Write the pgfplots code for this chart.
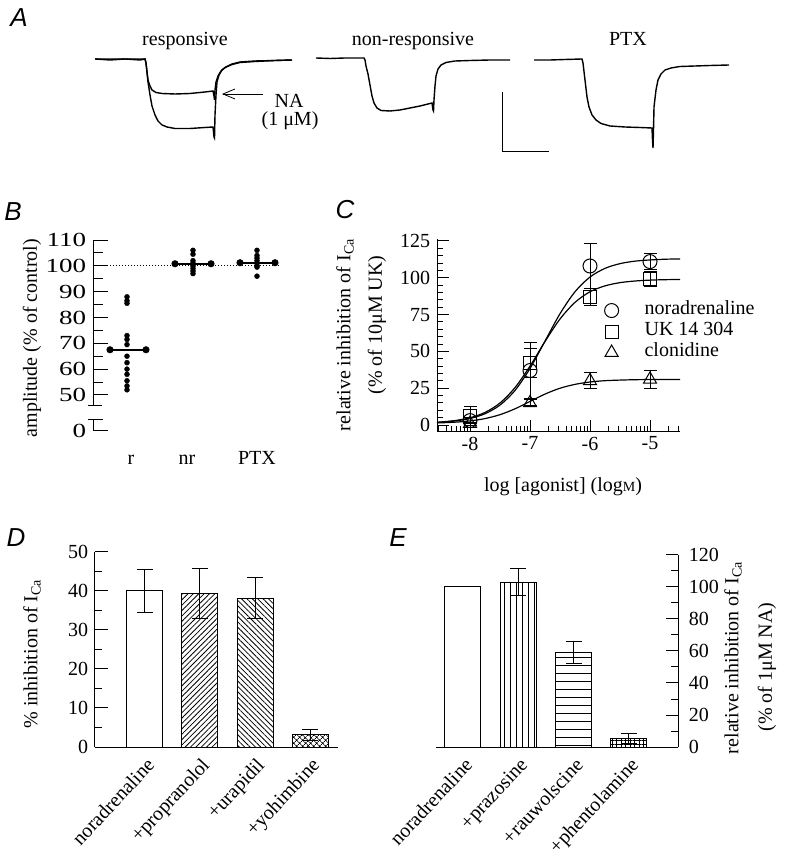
\documentclass[border=0pt]{standalone}
\usepackage{fontspec}
\setmainfont{Liberation Serif}
\newfontfamily\panelfont{Liberation Sans}
\usepackage{pgfplots}
\pgfplotsset{compat=1.18}
\usetikzlibrary{patterns.meta,arrows.meta}
\pgfplotsset{
  /pgf/number format/assume math mode=true,
  every axis/.append style={scale only axis, anchor=south west, clip=false,
    axis line style={line width=1pt}, tick style={line width=1pt, black}, tick align=inside},
  eb/.style={error bars/.cd, y dir=both, y explicit, error bar style={line width=1pt},
    error mark options={rotate=90, line width=1pt, mark size=#1}},
}
\newcommand{\plab}[1]{{\panelfont\itshape\fontsize{26}{26}\selectfont #1}}
\begin{document}
\fontsize{20}{24}\selectfont
\begin{tikzpicture}
\path[use as bounding box] (0pt,0pt) rectangle (790pt,857pt);

% ---------------- Panel A (pixel coordinates) ----------------
\begin{axis}[at={(0pt,687pt)}, width=790pt, height=170pt, xmin=0, xmax=790, ymin=0, ymax=170,
  y dir=reverse, hide axis]
\addplot[no marks, line width=1.4pt] coordinates {(95,59) (110,60) (125,59) (140,60) (145,59) (146,63) (147,72) (148,82) (150,95) (152,106) (155,115) (158,121) (162,125) (167,127) (175,128.5) (190,128.5) (205,127.5) (213,127) (214,137) (214.5,138) (215,115) (216,95) (217,82) (219,75) (222,70) (226,67) (232,64) (240,62) (255,61) (275,60.5) (292,60)};
\addplot[no marks, line width=1.4pt] coordinates {(95,59) (145,59) (146,63) (147,72) (148,80) (150,86) (152,90) (156,92.5) (162,93.5) (175,94) (190,93.5) (205,92) (213,91) (214,96) (214.5,100) (215,90) (216,82) (218,76) (221,71) (225,67.5) (232,64.5) (240,62.5) (255,61.5) (275,60.5) (292,60)};
\addplot[no marks, line width=1.4pt] coordinates {(316,58) (330,58.5) (345,58) (364,58) (365,60) (366,66) (368,74) (370,85) (372,96) (374,103) (377,108) (381,110.5) (390,111) (400,110) (410,108) (420,106) (432,103) (433,110) (433.5,111) (434,100) (435,86) (436,76) (438,69) (441,65) (446,62.5) (455,61) (470,60.5) (490,60) (510,60)};
\addplot[no marks, line width=1.4pt] coordinates {(534,60) (550,60) (565,59.5) (582,59) (583,63) (585,80) (587,97) (589,107) (592,115) (596,120) (601,123.5) (610,126) (625,127) (640,127.5) (652,128) (652.5,140) (653,148) (653.5,130) (654,107) (656,90) (658,80) (661,74) (665,70) (671,68) (680,66.5) (695,66) (710,65.5) (729,65)};
\addplot[no marks, line width=1pt] coordinates {(502,92) (502,152) (549,152)};
\addplot[no marks, line width=0.8pt, -{Straight Barb[length=12pt,width=10pt]}] coordinates {(263,94) (222,94)};
\node[anchor=base] at (axis cs:185,46) {responsive};
\node[anchor=base] at (axis cs:413,46) {non-responsive};
\node[anchor=base] at (axis cs:628,46) {PTX};
\node[anchor=base] at (axis cs:289,108) {NA};
\node[anchor=base] at (axis cs:290,126) {(1 μM)};
\end{axis}
\node at (19pt,839pt) {\plab{A}};

% ---------------- Panel B ----------------
\begin{axis}[at={(93pt,451.7pt)}, width=187pt, height=165.3pt, xmin=93, xmax=280, ymin=46, ymax=110,
  axis x line=none, axis y line*=left, ytick={50,60,...,110}, minor ytick={55,65,...,105},
  yticklabel={\scalebox{1.35}[1]{\pgfmathprintnumber{\tick}}},
  major tick length=15pt, minor tick length=10pt]
\addplot[no marks, dotted, line width=1pt] coordinates {(107,100) (280,100)};
\addplot[only marks, mark=*, mark size=2.5pt] coordinates {(127,88) (127,86.5) (127,85.5) (127,73) (127,71.5) (127,69.5) (127,65) (127,62.5) (127,60) (127,58) (127,55.5) (127,53.5) (127,52)};
\addplot[only marks, mark=*, mark size=2.5pt] coordinates {(193,106) (193,104.5) (193,102) (193,101) (193,100.5) (193,100) (193,99) (193,98) (193,97)};
\addplot[only marks, mark=*, mark size=2.5pt] coordinates {(257,106) (257,104) (257,103) (257,102) (257,101) (257,100) (257,99.5) (257,96)};
\addplot[line width=2pt, mark=*, mark size=2.5pt] coordinates {(110,67.5) (146,67.5)};
\addplot[line width=2pt, mark=*, mark size=2.5pt] coordinates {(175,100.8) (211,100.8)};
\addplot[line width=2pt, mark=*, mark size=2.5pt] coordinates {(240,101.2) (275,101.2)};
\draw[line width=1pt] ([xshift=-5pt]rel axis cs:0,0) -- ([xshift=9pt]rel axis cs:0,0);
\end{axis}
\begin{axis}[at={(93pt,426pt)}, width=187pt, height=11.1pt, xmin=93, xmax=280, ymin=0, ymax=4.3,
  axis x line*=bottom, x axis line style={draw=none}, xtick style={draw=none},
  xtick={131,187,257}, xticklabels={r,nr,PTX}, xticklabel style={anchor=base, yshift=-34pt},
  axis y line*=left, ytick={0}, yticklabel={\scalebox{1.35}[1]{\pgfmathprintnumber{\tick}}},
  major tick length=15pt]
\draw[line width=1pt] ([xshift=-5pt]rel axis cs:0,1) -- ([xshift=10pt]rel axis cs:0,1);
\end{axis}
\node at (13pt,645pt) {\plab{B}};
\node[rotate=90] at (32pt,519pt) {amplitude (\% of control)};

% ---------------- Panel C ----------------
\begin{axis}[at={(437pt,425pt)}, width=243pt, height=192.5pt, xmin=-8.55, xmax=-4.5, ymin=-4.75, ymax=126,
  axis x line*=bottom, axis y line*=left,
  xtick={-8,-7,-6,-5},
  minor xtick={-8.523,-8.398,-8.301,-8.222,-8.155,-8.097,-8.046,-7.699,-7.523,-7.398,-7.301,-7.222,-7.155,-7.097,-7.046,-6.699,-6.523,-6.398,-6.301,-6.222,-6.155,-6.097,-6.046,-5.699,-5.523,-5.398,-5.301,-5.222,-5.155,-5.097,-5.046,-4.699,-4.523},
  ytick={0,25,...,125},
  minor ytick={5,10,15,20,30,35,40,45,55,60,65,70,80,85,90,95,105,110,115,120},
  major tick length=12pt, minor tick length=6pt,
  xticklabel style={yshift=2pt},
  legend style={at={(axis cs:-5.76,85)}, anchor=north west, draw=none, fill=none, inner sep=0pt, row sep=0pt,
    nodes={inner sep=2pt, text height=12pt, text depth=5pt, anchor=west},
    /tikz/every odd column/.append style={column sep=24pt}},
  legend cell align=left]
\addplot[no marks, line width=1.2pt, smooth, forget plot] coordinates {(-8.55,1.7) (-8.5,1.88) (-8.25,2.75) (-8,4.43) (-7.75,7.65) (-7.5,13.53) (-7.25,23.49) (-7,38.4) (-6.75,57) (-6.5,75.6) (-6.25,90.5) (-6,100.5) (-5.75,106.4) (-5.5,109.6) (-5.25,111.3) (-5,112.1) (-4.75,112.6) (-4.5,112.8)};
\addplot[no marks, line width=1.2pt, smooth, forget plot] coordinates {(-8.55,1.9) (-8.5,2.02) (-8.25,3.0) (-8,4.92) (-7.75,8.53) (-7.5,14.94) (-7.25,25.4) (-7,40.0) (-6.75,56.7) (-6.5,72.0) (-6.25,83.3) (-6,90.5) (-5.75,94.5) (-5.5,96.7) (-5.25,97.8) (-5,98.4) (-4.75,98.7) (-4.5,98.85)};
\addplot[no marks, line width=1.2pt, smooth, forget plot] coordinates {(-8.55,1.4) (-8.5,1.47) (-8.25,1.92) (-8,2.78) (-7.75,4.36) (-7.5,7.02) (-7.25,11.0) (-7,16) (-6.75,21.0) (-6.5,24.98) (-6.25,27.6) (-6,29.2) (-5.75,30.1) (-5.5,30.5) (-5.25,30.77) (-5,30.88) (-4.75,30.94) (-4.5,30.97)};
\addplot[only marks, mark=o, mark size=7pt, line width=1pt, forget plot, eb=6.5pt]
  coordinates {(-8,3) +- (0,2) (-7,37) +- (0,19) (-6,108) +- (0,15) (-5,111) +- (0,5.5)};
\addplot[only marks, mark=square, mark size=6.5pt, line width=1pt, forget plot, eb=6.5pt]
  coordinates {(-8,6) +- (0,6.5) (-7,42) +- (0,10) (-6,87) +- (0,6) (-5,99) +- (0,5)};
\addplot[only marks, mark=triangle, mark size=7.5pt, line width=1pt, forget plot, eb=6.5pt]
  coordinates {(-8,1) +- (0,1) (-7,15) +- (0,2) (-6,30) +- (0,5.5) (-5,31) +- (0,6)};
\addlegendimage{only marks, mark=o, mark size=7pt, line width=1pt}
\addlegendentry{noradrenaline}
\addlegendimage{only marks, mark=square, mark size=6.5pt, line width=1pt}
\addlegendentry{UK 14 304}
\addlegendimage{only marks, mark=triangle, mark size=7.5pt, line width=1pt}
\addlegendentry{clonidine}
\end{axis}
\node at (345pt,647pt) {\plab{C}};
\node[rotate=90] at (345pt,522pt) {relative inhibition of I\textsubscript{Ca}};
\node[rotate=90] at (377pt,532pt) {(\% of 10μM UK)};
\node at (563pt,370pt) {log [agonist] (log{\fontsize{14}{14}\selectfont M})};

% ---------------- Panel D ----------------
\begin{axis}[at={(95pt,110pt)}, width=243pt, height=195pt, xmin=-0.909, xmax=3.509, ymin=0, ymax=50,
  axis x line*=bottom, axis y line*=left,
  xtick={0,1,2,3}, xticklabels={noradrenaline,+propranolol,+urapidil,+yohimbine},
  xtick style={draw=none}, xticklabel style={rotate=47, anchor=north east},
  ytick={0,10,...,50}, minor ytick={5,15,25,35,45},
  major tick length=13pt, minor tick length=7pt]
\addplot[ybar, bar width=36pt, bar shift=0pt, draw=black, line width=1pt, fill=white, eb=8pt]
  coordinates {(0,40) +- (0,5.6)};
\addplot[ybar, bar width=36pt, bar shift=0pt, draw=black, line width=1pt,
  pattern={Lines[angle=45,distance=3.8pt,line width=0.8pt]}, eb=8pt]
  coordinates {(1,39.3) +- (0,6.4)};
\addplot[ybar, bar width=36pt, bar shift=0pt, draw=black, line width=1pt,
  pattern={Lines[angle=-45,distance=3.8pt,line width=0.8pt]}, eb=8pt]
  coordinates {(2,38.2) +- (0,5.3)};
\addplot[ybar, bar width=36pt, bar shift=0pt, draw=black, line width=1pt,
  pattern={Hatch[angle=45,distance=4pt,line width=0.7pt]}, eb=8pt]
  coordinates {(3,3.1) +- (0,1.5)};
\end{axis}
\node at (16pt,319pt) {\plab{D}};
\node[rotate=90] at (32pt,203pt) {\% inhibition of I\textsubscript{Ca}};

% ---------------- Panel E ----------------
\begin{axis}[at={(436pt,110pt)}, width=242pt, height=192pt, xmin=-0.488, xmax=3.888, ymin=0, ymax=120,
  axis x line*=bottom, axis y line*=right,
  xtick={0,1,2,3}, xticklabels={noradrenaline,+prazosine,+rauwolscine,+phentolamine},
  xtick style={draw=none}, xticklabel style={rotate=47, anchor=north east},
  ytick={0,20,...,120}, minor ytick={10,30,...,110},
  major tick length=12pt, minor tick length=7pt, yticklabel style={xshift=4pt}]
\addplot[ybar, bar width=36pt, bar shift=0pt, draw=black, line width=1pt, fill=white]
  coordinates {(0,100)};
\addplot[ybar, bar width=36pt, bar shift=0pt, draw=black, line width=1pt,
  pattern={Lines[angle=90,distance=6pt,line width=0.8pt]}, eb=8pt]
  coordinates {(1,103) +- (0,8.5)};
\addplot[ybar, bar width=36pt, bar shift=0pt, draw=black, line width=1pt,
  pattern={Lines[angle=0,distance=8pt,line width=0.8pt]}, eb=8pt]
  coordinates {(2,59) +- (0,7)};
\addplot[ybar, bar width=36pt, bar shift=0pt, draw=black, line width=1pt,
  pattern={Hatch[angle=0,distance=4.5pt,line width=0.6pt]}, eb=8pt]
  coordinates {(3,5.2) +- (0,3.2)};
\end{axis}
\node at (398pt,319pt) {\plab{E}};
\node[rotate=90] at (733pt,199pt) {relative inhibition of I\textsubscript{Ca}};
\node[rotate=90] at (767pt,190pt) {(\% of 1μM NA)};
\end{tikzpicture}
\end{document}
